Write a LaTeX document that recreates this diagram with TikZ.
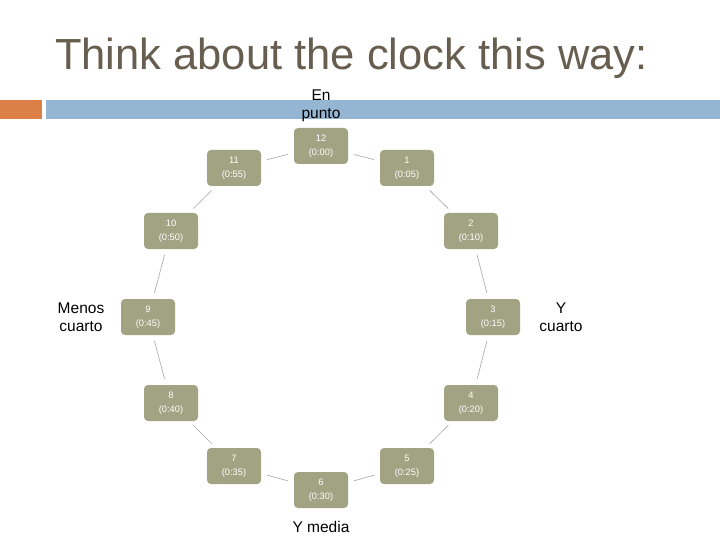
\documentclass[tikz,border=0pt]{standalone}
\usepackage{fontspec}
\setmainfont{Liberation Sans}
\begin{document}
\begin{tikzpicture}[x=1pt,y=-1pt,
  box/.style={rounded corners=4pt,fill=boxc,minimum width=54pt,minimum height=36pt,text=white,font=\fontsize{9.3}{14}\selectfont,align=center,inner sep=1pt},
  lab/.style={font=\fontsize{15.5}{18}\selectfont,align=center,text=black},
  con/.style={draw=gray!70,line width=0.6pt,shorten >=6pt,shorten <=6pt}]
\definecolor{boxc}{HTML}{A1A382}
\definecolor{titc}{HTML}{675E50}
\definecolor{barb}{HTML}{94B6D2}
\definecolor{baro}{HTML}{DD8047}
\useasboundingbox (0,0) rectangle (720,540);
\fill[white] (0,0) rectangle (720,540);
\node[anchor=west,text=titc,font=\fontsize{43.5}{48}\selectfont,inner sep=0pt] (title) at (55,58) {Think about the clock this way:};
\fill[baro] (0,100) rectangle (42,119);
\fill[barb] (46,100) rectangle (720,119);
\node[box] (n12) at (321,146) {12\\(0:00)};
\node[box] (n1) at (407,168) {1\\(0:05)};
\node[box] (n2) at (471,231) {2\\(0:10)};
\node[box] (n3) at (493,317) {3\\(0:15)};
\node[box] (n4) at (471,403) {4\\(0:20)};
\node[box] (n5) at (407,466) {5\\(0:25)};
\node[box] (n6) at (321,490) {6\\(0:30)};
\node[box] (n7) at (234,466) {7\\(0:35)};
\node[box] (n8) at (171,403) {8\\(0:40)};
\node[box] (n9) at (148,317) {9\\(0:45)};
\node[box] (n10) at (171,231) {10\\(0:50)};
\node[box] (n11) at (234,168) {11\\(0:55)};
\foreach \a/\b in {n12/n1,n1/n2,n2/n3,n3/n4,n4/n5,n5/n6,n6/n7,n7/n8,n8/n9,n9/n10,n10/n11,n11/n12}
  \draw[con] (\a) -- (\b);
\node[lab] (l12) at (321,106) {En\\punto};
\node[lab] (l3) at (561,317) {Y\\cuarto};
\node[lab] (l9) at (81,317) {Menos\\cuarto};
\node[lab] (l6) at (321,527) {Y media};
\end{tikzpicture}
\end{document}
